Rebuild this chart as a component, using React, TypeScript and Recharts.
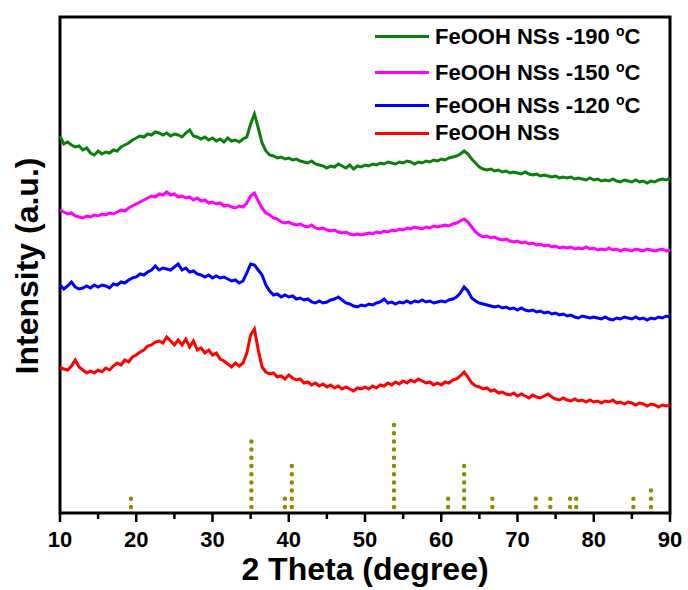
import React from 'react';
import { ComposedChart, Line, XAxis, YAxis, ReferenceLine, ReferenceArea } from 'recharts';

const FONT = '"Liberation Sans", Arial, sans-serif';

// 2 theta in degrees, 0.5 step
const theta = [
  10, 10.5, 11, 11.5, 12, 12.5, 13, 13.5, 14, 14.5,
  15, 15.5, 16, 16.5, 17, 17.5, 18, 18.5, 19, 19.5,
  20, 20.5, 21, 21.5, 22, 22.5, 23, 23.5, 24, 24.5,
  25, 25.5, 26, 26.5, 27, 27.5, 28, 28.5, 29, 29.5,
  30, 30.5, 31, 31.5, 32, 32.5, 33, 33.5, 34, 34.5,
  35, 35.5, 36, 36.5, 37, 37.5, 38, 38.5, 39, 39.5,
  40, 40.5, 41, 41.5, 42, 42.5, 43, 43.5, 44, 44.5,
  45, 45.5, 46, 46.5, 47, 47.5, 48, 48.5, 49, 49.5,
  50, 50.5, 51, 51.5, 52, 52.5, 53, 53.5, 54, 54.5,
  55, 55.5, 56, 56.5, 57, 57.5, 58, 58.5, 59, 59.5,
  60, 60.5, 61, 61.5, 62, 62.5, 63, 63.5, 64, 64.5,
  65, 65.5, 66, 66.5, 67, 67.5, 68, 68.5, 69, 69.5,
  70, 70.5, 71, 71.5, 72, 72.5, 73, 73.5, 74, 74.5,
  75, 75.5, 76, 76.5, 77, 77.5, 78, 78.5, 79, 79.5,
  80, 80.5, 81, 81.5, 82, 82.5, 83, 83.5, 84, 84.5,
  85, 85.5, 86, 86.5, 87, 87.5, 88, 88.5, 89, 89.5,
  90,
];

// intensities (a.u.), curves already stacked with their offsets
const nss = [
  146, 144, 143, 147, 153, 146, 143, 140, 142, 140,
  143, 141, 145, 143, 147, 150, 148, 153, 151, 156,
  158, 161, 163, 167, 168, 171, 172, 170, 176, 172,
  168, 173, 168, 174, 166, 172, 163, 165, 160, 163,
  158, 160, 154, 152, 149, 146, 150, 147, 150, 160,
  178, 184, 163, 146, 141, 139, 140, 136, 137, 134,
  138, 135, 133, 134, 130, 131, 128, 130, 127, 129,
  126, 128, 125, 127, 124, 126, 124, 122, 125, 124,
  126, 124, 127, 125, 128, 127, 130, 128, 131, 129,
  132, 130, 133, 131, 134, 132, 130, 131, 128, 130,
  128, 131, 130, 133, 134, 137, 141, 136, 130, 127,
  126, 124, 125, 122, 123, 120, 121, 119, 118, 120,
  117, 119, 117, 115, 118, 116, 115, 117, 119, 116,
  114, 113, 115, 113, 112, 114, 112, 113, 111, 113,
  111, 112, 110, 112, 111, 113, 110, 111, 109, 111,
  110, 108, 110, 109, 107, 109, 108, 106, 108, 107,
  108,
];

const nss120 = [
  228, 224, 227, 231, 226, 224, 225, 227, 225, 228,
  226, 228, 227, 225, 229, 228, 231, 230, 233, 235,
  236, 239, 238, 241, 243, 247, 243, 245, 244, 243,
  246, 249, 243, 245, 241, 242, 239, 238, 236, 238,
  235, 237, 235, 236, 234, 232, 233, 230, 232, 240,
  249, 248, 243, 238, 228, 222, 218, 219, 216, 218,
  216, 217, 214, 215, 213, 214, 211, 210, 212, 210,
  211, 213, 214, 216, 213, 210, 209, 207, 206, 208,
  207, 209, 208, 210, 211, 214, 210, 211, 209, 211,
  210, 212, 210, 212, 211, 213, 211, 212, 210, 211,
  212, 211, 213, 214, 216, 220, 226, 222, 215, 212,
  210, 209, 208, 207, 206, 207, 205, 206, 204, 205,
  203, 205, 203, 202, 203, 201, 202, 200, 201, 199,
  200, 198, 199, 197, 198, 196, 195, 197, 196, 195,
  196, 195, 194, 196, 194, 193, 195, 194, 196, 195,
  194, 196, 194, 195, 193, 195, 194, 196, 195, 197,
  196,
];

const nss150 = [
  303, 301, 299, 300, 297, 296, 295, 297, 296, 298,
  297, 299, 298, 300, 299, 301, 303, 302, 305, 307,
  309, 311, 313, 315, 317, 316, 319, 318, 321, 318,
  319, 316, 317, 315, 316, 313, 315, 312, 313, 310,
  311, 309, 310, 307, 308, 306, 305, 307, 306, 310,
  317, 320, 312, 305, 300, 298, 295, 294, 291, 290,
  291, 289, 288, 289, 287, 286, 288, 285, 284, 285,
  283, 282, 283, 281, 280, 281, 279, 278, 279, 278,
  279, 280, 279, 281, 280, 282, 281, 283, 282, 284,
  283, 285, 284, 286, 285, 284, 286, 285, 287, 286,
  287, 288, 287, 289, 290, 292, 294, 291, 286, 281,
  278, 276, 277, 275, 276, 274, 273, 274, 272, 271,
  272, 270, 271, 269, 270, 268, 269, 267, 268, 266,
  267, 265, 266, 265, 266, 264, 265, 264, 266, 264,
  265, 263, 264, 263, 265, 263, 264, 262, 264, 263,
  262, 264, 263, 262, 264, 263, 262, 263, 264, 262,
  263,
];

const nss190 = [
  377, 369, 371, 368, 366, 367, 363, 365, 360, 358,
  362, 359, 361, 360, 363, 362, 366, 368, 370, 373,
  375, 377, 376, 379, 378, 381, 380, 378, 380, 377,
  379, 378, 376, 380, 383, 377, 376, 374, 376, 373,
  375, 372, 374, 371, 375, 372, 373, 371, 374, 376,
  389, 399, 385, 370, 362, 358, 357, 355, 356, 354,
  355, 353, 354, 352, 351, 350, 352, 349, 348, 347,
  345, 347, 346, 349, 347, 345, 348, 344, 347, 346,
  348, 347, 349, 348, 350, 349, 351, 350, 349, 351,
  350, 352, 351, 349, 351, 350, 352, 351, 353, 352,
  354, 353, 355, 356, 357, 359, 362, 359, 354, 350,
  346, 344, 343, 344, 342, 343, 341, 342, 340, 341,
  340, 339, 341, 339, 338, 339, 337, 338, 337, 336,
  337, 335, 336, 335, 336, 334, 335, 334, 333, 335,
  333, 334, 332, 333, 332, 334, 332, 331, 333, 332,
  331, 333, 331, 332, 330, 332, 331, 333, 334, 333,
  335,
];

// standard reference pattern (dotted sticks)
const refPeaks = [19.3, 35.1, 39.5, 40.4, 53.8, 60.9, 63.0, 66.7, 72.4, 74.3, 76.9, 77.7, 85.2, 87.5];
const refHeights = [17, 74, 22, 52, 89, 16, 47, 16, 19, 20, 20, 18, 19, 28];

const xTicks = [10, 15, 20, 25, 30, 35, 40, 45, 50, 55, 60, 65, 70, 75, 80, 85, 90];

const series = [
  { key: 'nss190', name: 'FeOOH NSs -190 ', deg: true, color: '#0a800a', values: nss190 },
  { key: 'nss150', name: 'FeOOH NSs -150 ', deg: true, color: '#ff00ff', values: nss150 },
  { key: 'nss120', name: 'FeOOH NSs -120 ', deg: true, color: '#0000ff', values: nss120 },
  { key: 'nss', name: 'FeOOH NSs', deg: false, color: '#ff0000', values: nss },
];

const data = theta.map((t, i) => {
  const row: Record<string, number> = { theta: t };
  series.forEach((s) => {
    row[s.key] = s.values[i];
  });
  return row;
});

const XTick = (props: any) => {
  const { x, y, payload } = props;
  const major = payload.value % 10 === 0;
  return (
    <g>
      <line x1={x} x2={x} y1={y} y2={y + (major ? 9 : 6)} stroke="#000" strokeWidth={2.5} />
      {major && (
        <text x={x} y={y + 34} textAnchor="middle" fontSize={22} fontWeight="bold" fontFamily={FONT} fill="#000">
          {payload.value}
        </text>
      )}
    </g>
  );
};

const legendTops = [36, 72, 105, 133];

export default function App() {
  return (
    <div style={{ position: 'absolute', left: 0, top: 0, width: 688, height: 590, background: '#fff' }}>
      <ComposedChart width={688} height={590} data={data} margin={{ top: 17, right: 18, left: 60, bottom: 0 }}>
        <XAxis
          dataKey="theta"
          type="number"
          domain={[10, 90]}
          ticks={xTicks}
          interval={0}
          height={77}
          axisLine={false}
          tickLine={false}
          tickSize={0}
          tickMargin={0}
          tick={<XTick />}
          label={(p: any) => {
            const vb = p.viewBox;
            return (
              <text x={vb.x + vb.width / 2} y={vb.y + 67} textAnchor="middle" fontSize={32} fontWeight="bold" fontFamily={FONT} fill="#000">
                2 Theta (degree)
              </text>
            );
          }}
        />
        <YAxis type="number" domain={[0, 496]} width={0} tick={false} axisLine={false} tickLine={false} />
        {refPeaks.map((p, i) => (
          <ReferenceLine
            key={`ref-${i}`}
            segment={[{ x: p, y: 6 }, { x: p, y: refHeights[i] }]}
            stroke="#8c8c00"
            strokeWidth={4.5}
            strokeDasharray="0 8.2"
            strokeLinecap="round"
          />
        ))}
        {series.map((s) => (
          <Line
            key={s.key}
            type="linear"
            dataKey={s.key}
            stroke={s.color}
            strokeWidth={3}
            dot={false}
            isAnimationActive={false}
          />
        ))}
        <ReferenceArea x1={10} x2={90} y1={0} y2={496} fill="none" fillOpacity={0} stroke="#000" strokeWidth={3} />
      </ComposedChart>
      <svg width={60} height={590} style={{ position: 'absolute', left: 0, top: 0 }}>
        <text
          x={38}
          y={266}
          transform="rotate(-90, 38, 266)"
          textAnchor="middle"
          fontSize={32}
          fontWeight="bold"
          fontFamily={FONT}
          fill="#000"
        >
          Intensity (a.u.)
        </text>
      </svg>
      {series.map((s, i) => (
        <div
          key={`leg-${s.key}`}
          style={{
            position: 'absolute',
            left: 375,
            top: legendTops[i] - 14,
            height: 28,
            display: 'flex',
            alignItems: 'center',
            fontFamily: FONT,
            fontWeight: 'bold',
            fontSize: 22,
            color: '#000',
            whiteSpace: 'nowrap',
          }}
        >
          <span style={{ display: 'inline-block', width: 54, height: 3, background: s.color, marginRight: 6 }} />
          <span>
            {s.name}
            {s.deg && (
              <>
                <sup style={{ fontSize: 14, verticalAlign: 8 }}>o</sup>C
              </>
            )}
          </span>
        </div>
      ))}
    </div>
  );
}
